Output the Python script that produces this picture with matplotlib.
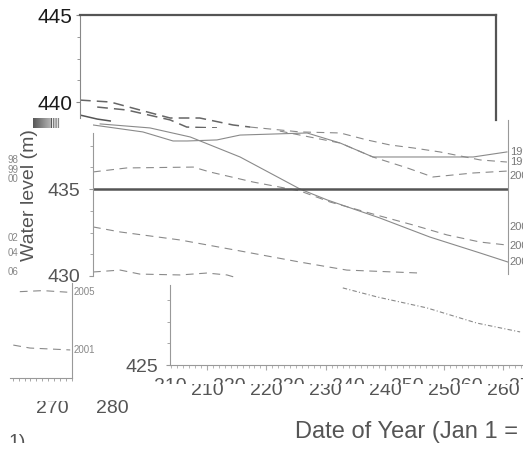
import matplotlib
matplotlib.use("Agg")
import matplotlib.pyplot as plt
import matplotlib.transforms as mtransforms
from matplotlib.patches import Rectangle
from matplotlib.ticker import MultipleLocator, FixedLocator
import numpy as np

W, H = 523, 449
plt.rcParams.update({
    "font.family": ["Liberation Sans", "DejaVu Sans"],
    "axes.linewidth": 0.8,
})

# ---- data (day of year, water level in m) ----
# upper tile
a_dash1_day = [200.0, 205.1, 210.1, 215.2, 220.2, 225.8, 228.7]
a_dash1_lvl = [440.11, 440.0, 439.54, 439.08, 439.08, 438.68, 438.56]
a_dash2_day = [202.9, 207.9, 215.2, 218.0, 223.1]
a_dash2_lvl = [439.71, 439.54, 438.97, 438.56, 438.51]
a_solid_day = [200.0, 202.9, 205.1]
a_solid_lvl = [439.25, 439.02, 438.91]

# middle tile
b_solid1_day = [201.2, 209.6, 216.4, 224.8, 234.9, 239.5, 248.4, 256.8, 265.3, 270.0]
b_solid1_lvl = [438.74, 438.51, 437.99, 436.84, 435.0, 434.37, 433.33, 432.24, 431.32, 430.80]
b_solid2_day = [200.0, 208.4, 213.5, 215.9, 220.9, 224.8, 236.1, 241.7, 247.2, 264.1, 269.8]
b_solid2_lvl = [438.68, 438.28, 437.76, 437.76, 437.82, 438.10, 438.22, 437.64, 436.84, 436.84, 437.13]
b_dash1_day = [226.5, 234.9, 241.7, 246.2, 250.1, 254.0, 258.5, 265.3, 269.8]
b_dash1_lvl = [438.56, 438.28, 438.22, 437.82, 437.53, 437.36, 437.13, 436.67, 436.55]
b_dash2_day = [231.5, 241.7, 247.2, 253.0, 257.3, 264.1, 269.8]
b_dash2_lvl = [438.33, 437.64, 436.84, 436.21, 435.69, 435.92, 436.03]
b_dash3_day = [200.0, 205.7, 216.9, 219.7, 227.0, 234.9, 240.0, 248.4, 254.0, 259.7, 265.3, 269.8]
b_dash3_lvl = [435.98, 436.21, 436.26, 435.98, 435.40, 434.89, 434.25, 433.45, 432.93, 432.36, 431.95, 431.78]
b_dash4_day = [200.0, 204.6, 214.7, 224.8, 234.9, 242.8, 255.1]
b_dash4_lvl = [432.82, 432.53, 432.07, 431.44, 430.80, 430.34, 430.17]
b_dash5_day = [200.0, 204.6, 207.9, 214.7, 219.2, 222.6, 224.3]
b_dash5_lvl = [430.23, 430.34, 430.11, 430.06, 430.17, 430.06, 429.89]
b_ref_level = 435.0
b_year_labels = ["1998", "1999", "2000", "2002", "2004", "2006"]
b_year_lvl = [437.13, 436.55, 435.72, 432.82, 431.72, 430.78]
left_year_tails = ["98", "99", "00", "02", "04", "06"]

# lower-left tile
c_dash1_day = [261.2, 265.1, 269.2]
c_dash1_lvl = [429.10, 429.16, 429.07]
c_dash2_day = [260.1, 262.9, 269.7]
c_dash2_lvl = [426.03, 425.86, 425.75]
c_year_labels = ["2005", "2001"]
c_year_lvl = [429.08, 425.75]

# lower-right tile
d_dot_day = [232.9, 238.7, 247.1, 255.5, 262.8]
d_dot_lvl = [429.43, 428.91, 428.28, 427.41, 426.90]
d_tick_days = [210, 220, 230, 240, 250, 260, 270]

LINE = "#8a8a8a"
DARK = "#555555"
TXT = "#555555"
PX_PER_M = 17.4
PX_PER_DAY = 5.93


def box(x0, y0, x1, y1):
    return [x0 / W, 1 - y1 / H, (x1 - x0) / W, (y1 - y0) / H]


def fy(y):
    return 1 - y / H


def clipped(txt, rect):
    txt.set_clip_path(rect)
    txt.set_clip_on(True)
    return txt


fig = plt.figure(figsize=(W / 100, H / 100), dpi=100)
fig.patch.set_facecolor("white")

# ---- middle tile (440 m sits at pixel row 102) ----
ax_b = fig.add_axes(box(93, 118, 508, 280), zorder=1)
ax_b.set_xlim(200, 200 + 415 / PX_PER_DAY)
ax_b.set_ylim(440 - (280 - 102) / PX_PER_M, 440 - (118 - 102) / PX_PER_M)
ax_b.plot(b_solid1_day, b_solid1_lvl, color=LINE, lw=0.8)
ax_b.plot(b_solid2_day, b_solid2_lvl, color=LINE, lw=0.8)
for days, lvls in [(b_dash1_day, b_dash1_lvl), (b_dash2_day, b_dash2_lvl),
                   (b_dash3_day, b_dash3_lvl), (b_dash4_day, b_dash4_lvl),
                   (b_dash5_day, b_dash5_lvl)]:
    ax_b.plot(days, lvls, color=LINE, lw=0.8, dashes=(7, 5))
ax_b.axhline(b_ref_level, color=DARK, lw=1.8)
for s in ["top", "bottom"]:
    ax_b.spines[s].set_visible(False)
ax_b.spines["left"].set_bounds(430, 438.2)
ax_b.spines["right"].set_bounds(430.1, 438.95)
for s in ["left", "right"]:
    ax_b.spines[s].set_color("#999999")
ax_b.yaxis.set_major_locator(FixedLocator([430, 435]))
ax_b.yaxis.set_minor_locator(FixedLocator([431.25, 432.5, 433.75, 436.25, 437.5]))
ax_b.tick_params(axis="y", which="both", direction="out", length=3, color="#999999",
                 labelsize=14, labelcolor=TXT, pad=6.3)
ax_b.tick_params(axis="y", which="minor", length=2)
ax_b.set_xticks([])
for name, lvl in zip(b_year_labels, b_year_lvl):
    ax_b.text(270.3, lvl, name, fontsize=8, color="#777777", va="center", ha="left", clip_on=False)

# ---- upper tile (transparent, drawn over the middle one) ----
ax_a = fig.add_axes(box(80, 15, 496, 128), zorder=3)
ax_a.patch.set_visible(False)
ax_a.set_xlim(200, 200 + 416 / PX_PER_DAY)
ax_a.set_ylim(445 - 113 / PX_PER_M, 445)
ax_a.plot(a_dash1_day, a_dash1_lvl, color="#666666", lw=1.1, dashes=(7, 4))
ax_a.plot(a_dash2_day, a_dash2_lvl, color="#666666", lw=1.1, dashes=(7, 4))
ax_a.plot(a_solid_day, a_solid_lvl, color="#555555", lw=1.1)
ax_a.spines["bottom"].set_visible(False)
for s in ["top", "right"]:
    ax_a.spines[s].set_color(DARK)
    ax_a.spines[s].set_linewidth(1.6)
ax_a.spines["right"].set_bounds(438.97, 445)
ax_a.spines["left"].set_color("#888888")
ax_a.spines["left"].set_bounds(439.1, 445)
ax_a.yaxis.set_major_locator(FixedLocator([440, 445]))
ax_a.yaxis.set_minor_locator(FixedLocator([441.25, 442.5, 443.75]))
ax_a.tick_params(axis="y", which="both", direction="out", length=3, color="#888888",
                 labelsize=15, labelcolor="#1a1a1a", pad=2.5)
ax_a.tick_params(axis="y", which="minor", length=2)
ax_a.set_xticks([])

# ---- lower-left tile ----
ax_c = fig.add_axes(box(0, 283, 72, 378), zorder=1)
ax_c.set_xlim(270 - 72 / PX_PER_DAY, 270)
ax_c.set_ylim(430 - 102 / PX_PER_M, 430 - 7 / PX_PER_M)
ax_c.plot(c_dash1_day, c_dash1_lvl, color=LINE, lw=0.8, dashes=(7, 5))
ax_c.plot(c_dash2_day, c_dash2_lvl, color=LINE, lw=0.8, dashes=(7, 5))
for s in ["top", "left"]:
    ax_c.spines[s].set_visible(False)
for s in ["right", "bottom"]:
    ax_c.spines[s].set_color("#999999")
ax_c.spines["bottom"].set_bounds(259.5, 270)
ax_c.xaxis.set_major_locator(FixedLocator([]))
ax_c.xaxis.set_minor_locator(FixedLocator(list(range(260, 271))))
ax_c.tick_params(axis="x", which="minor", direction="out", length=2.5, color="#999999")
ax_c.set_yticks([])
for name, lvl in zip(c_year_labels, c_year_lvl):
    ax_c.text(270.3, lvl, name, fontsize=7, color="#888888", va="center", ha="left", clip_on=False)

# ---- lower-right tile ----
ax_d = fig.add_axes(box(170, 283, 530, 365), zorder=1)
ax_d.set_xlim(210 - 37 / PX_PER_DAY, 210 + 323 / PX_PER_DAY)
ax_d.set_ylim(425, 425 + 82 / PX_PER_M)
ax_d.plot(d_dot_day, d_dot_lvl, color=LINE, lw=0.8, dashes=(4, 2, 1, 2))
for s in ["top", "right"]:
    ax_d.spines[s].set_visible(False)
for s in ["left", "bottom"]:
    ax_d.spines[s].set_color("#999999")
ax_d.spines["left"].set_bounds(425, 429.6)
ax_d.yaxis.set_major_locator(FixedLocator([425]))
ax_d.yaxis.set_minor_locator(FixedLocator([426.25, 427.5, 428.75]))
ax_d.tick_params(axis="y", which="both", direction="out", length=3, color="#999999",
                 labelsize=14, labelcolor=TXT, pad=5.5)
ax_d.tick_params(axis="y", which="minor", length=2)
ax_d.xaxis.set_major_locator(FixedLocator(d_tick_days))
ax_d.xaxis.set_minor_locator(MultipleLocator(1))
ax_d.tick_params(axis="x", which="both", direction="out", color="#aaaaaa", labelbottom=False)
ax_d.tick_params(axis="x", which="major", length=3.5)
ax_d.tick_params(axis="x", which="minor", length=2)

# tick labels of the lower tile, split in two shifted strips
row1_clip = Rectangle((0, 0), 1, fy(384), transform=fig.transFigure)
row2_clip = Rectangle((0, fy(384)), 1, 1 - fy(384), transform=fig.transFigure)
trans1 = mtransforms.blended_transform_factory(ax_d.transData, fig.transFigure)
trans2 = mtransforms.offset_copy(trans1, fig=fig, x=-37, y=0, units="dots")
for day in d_tick_days:
    clipped(fig.text(day, fy(395), str(day), transform=trans1, fontsize=14, color=TXT,
                     ha="center", va="baseline"), row1_clip)
    clipped(fig.text(day, fy(391), str(day), transform=trans2, fontsize=14, color=TXT,
                     ha="center", va="baseline"), row2_clip)

# ---- loose texts ----
fig.text(30 / W, fy(195), "Water level (m)", rotation=90, fontsize=14, color=TXT,
         ha="center", va="center")
tail_y = [160, 170, 179, 238, 253, 272]
for tail, y in zip(left_year_tails, tail_y):
    fig.text(8 / W, fy(y), tail, fontsize=7, color="#888888", ha="left", va="center")

clip_270 = Rectangle((0, 0), 1, fy(401), transform=fig.transFigure)
clipped(fig.text(52 / W, fy(413), "270", fontsize=14, color=TXT, ha="center", va="baseline"), clip_270)
fig.text(112 / W, fy(413), "280", fontsize=14, color=TXT, ha="center", va="baseline")

clip_one = Rectangle((0, fy(443)), 1, 1 - fy(443), transform=fig.transFigure)
clipped(fig.text(8 / W, fy(434), "1)", fontsize=14, color=TXT, ha="left", va="top"), clip_one)

fig.text(295 / W, fy(438), "Date of Year (Jan 1 = 1)", fontsize=17, color=TXT,
         ha="left", va="baseline")

# glitch strip next to the axis label
ax_g = fig.add_axes(box(33, 118, 60, 128), zorder=4)
strip = np.concatenate([np.linspace(0.35, 0.7, 16), [0.35, 0.95, 0.4, 0.95, 0.45, 0.95, 0.5, 0.95]])
ax_g.imshow(strip[np.newaxis, :], cmap="gray", vmin=0, vmax=1, aspect="auto")
ax_g.axis("off")

fig.savefig("out.png", dpi=100)
